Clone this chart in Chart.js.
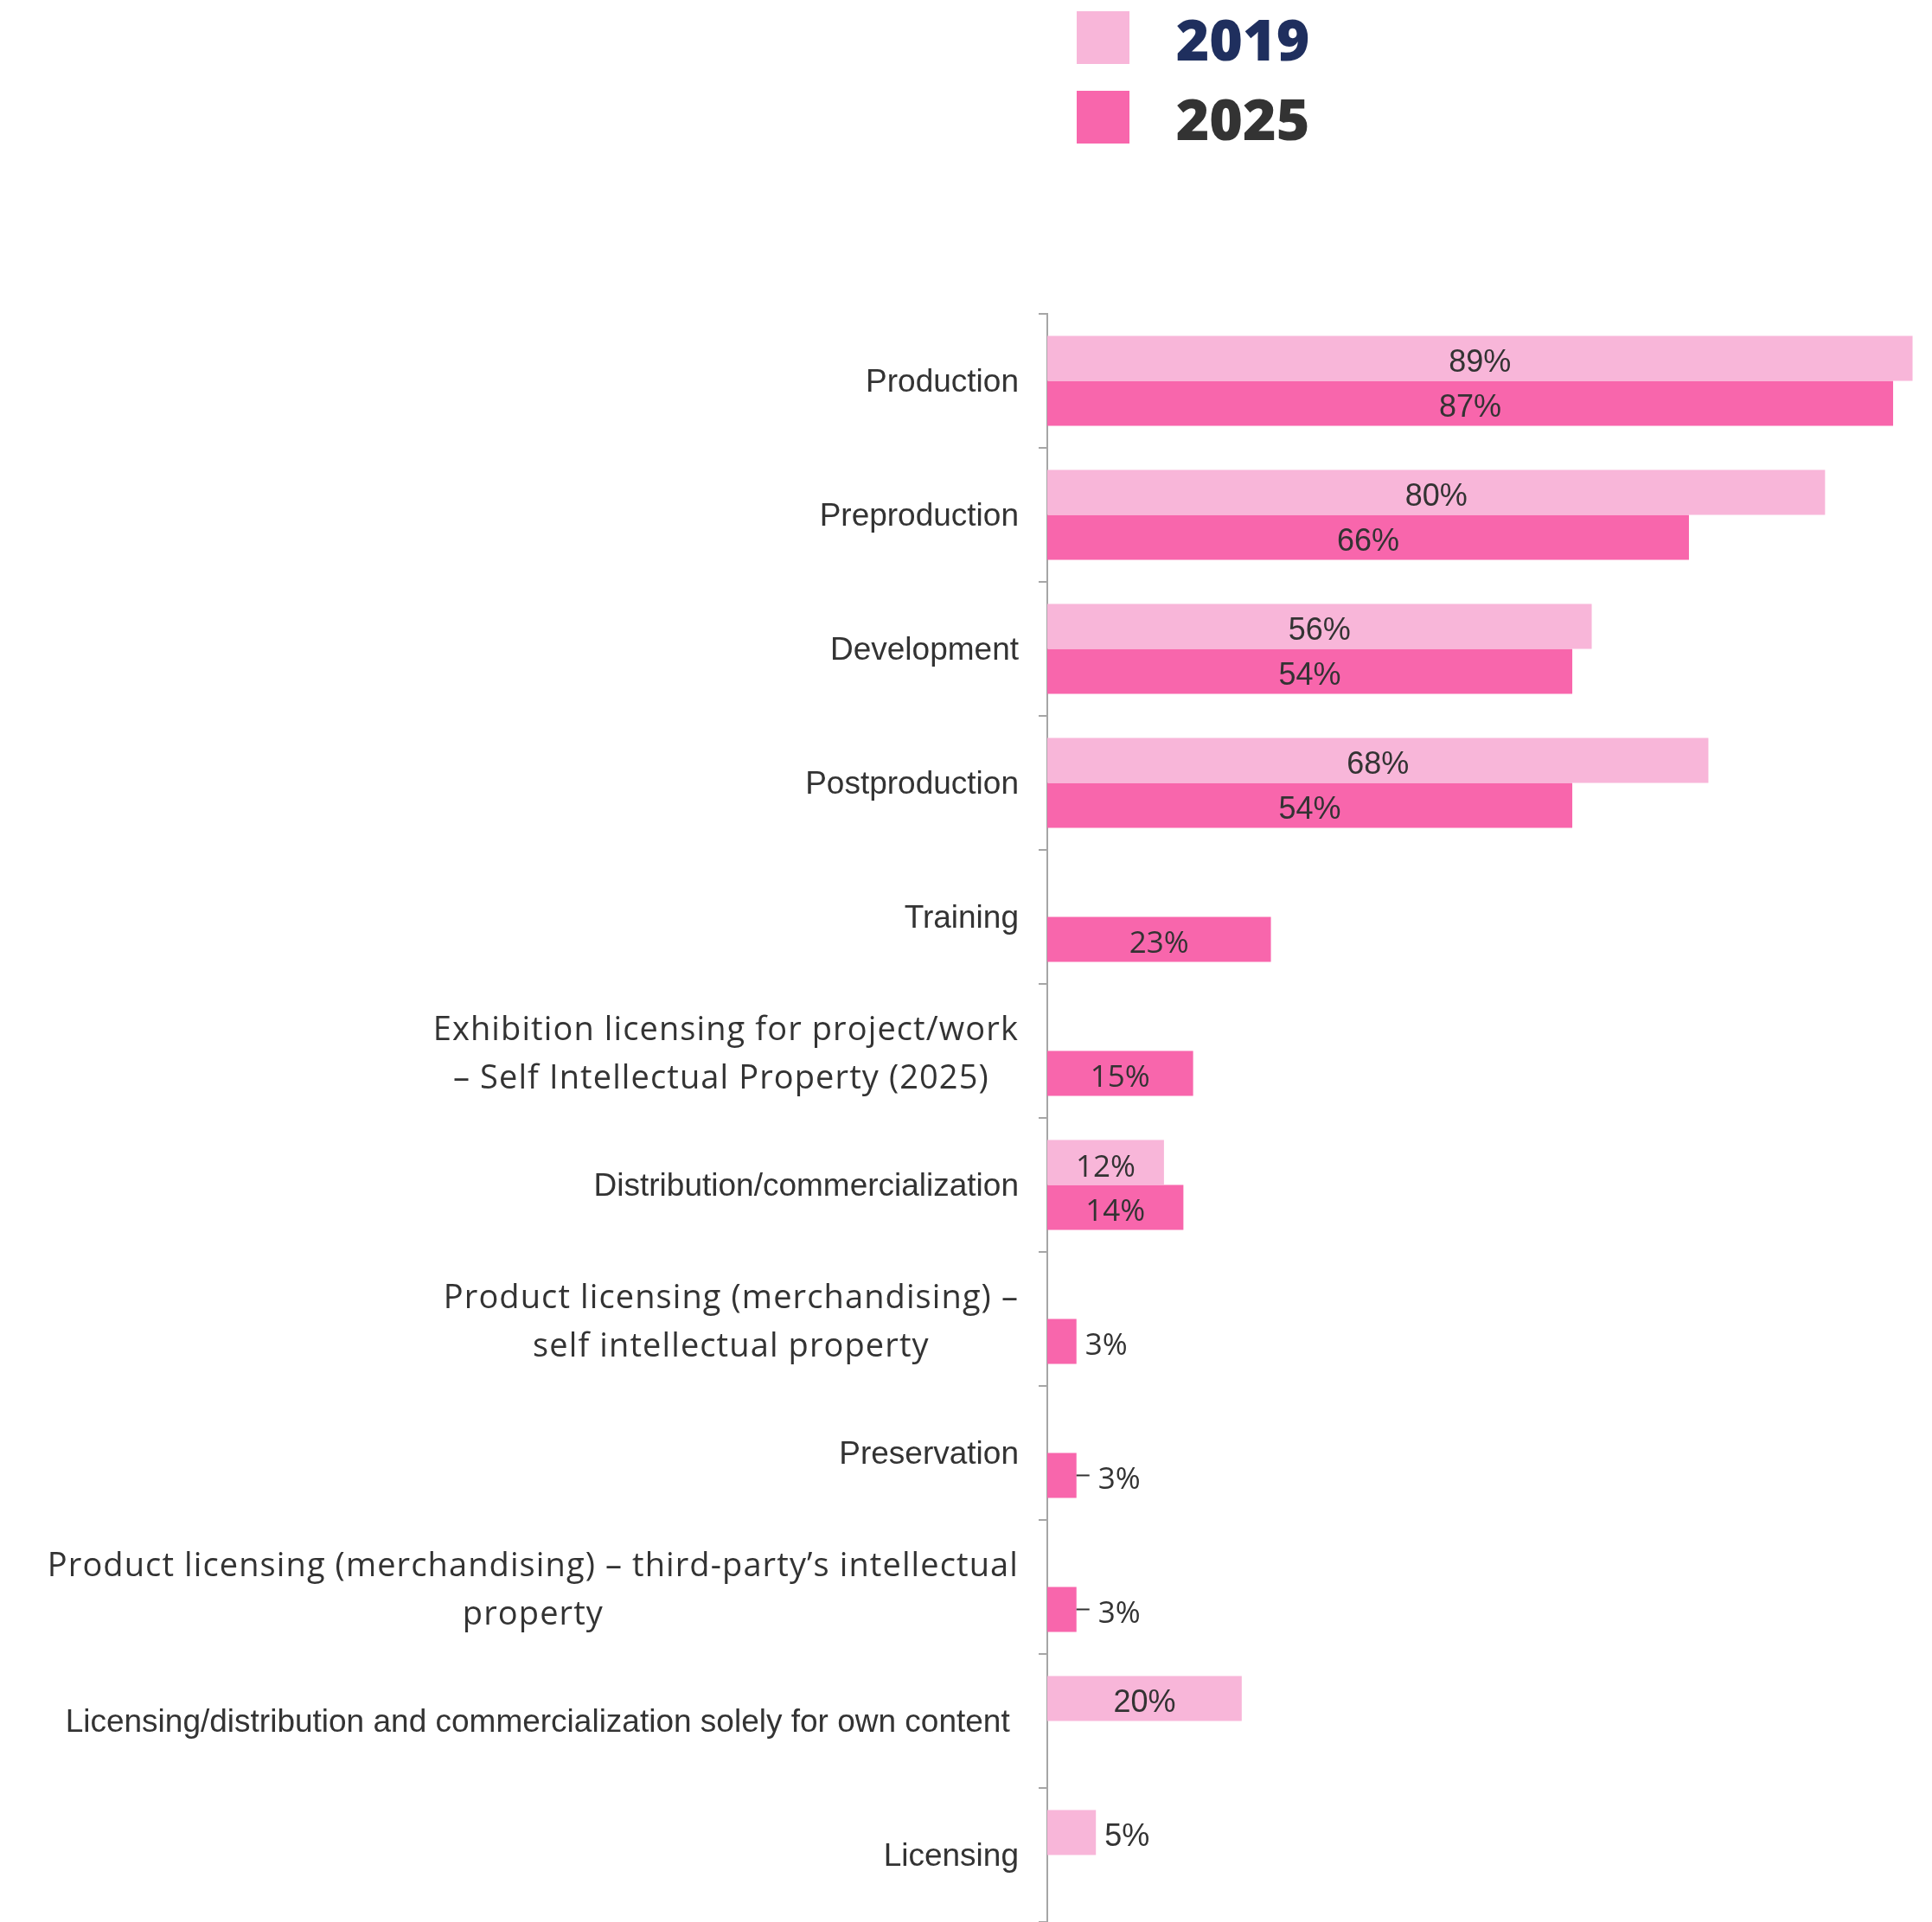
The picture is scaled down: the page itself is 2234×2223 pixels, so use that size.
<!DOCTYPE html>
<html lang="en">
<head>
<meta charset="utf-8">
<title>Activities 2019 vs 2025</title>
<script src="https://cdn.jsdelivr.net/npm/chart.js@4.4.1/dist/chart.umd.min.js"></script>
<style>
  html, body { margin: 0; padding: 0; background: #ffffff; }
  canvas { display: block; }
</style>
</head>
<body>
<canvas id="activity-chart" width="2234" height="2223"></canvas>
<script>
// =======================
// 1. Data
// =======================
const categorias = [
  ["Production"],
  ["Preproduction"],
  ["Development"],
  ["Postproduction"],
  ["Training"],
  ["Exhibition licensing for project/work", "– Self Intellectual Property (2025) "],
  ["Distribution/commercialization"],
  ["Product licensing (merchandising) –", "self intellectual property"],
  ["Preservation"],
  ["Product licensing (merchandising) – third-party’s intellectual", "property"],
  ["Licensing/distribution and commercialization solely for own content "],
  ["Licensing"],
];

const anos = ["2019", "2025"];
const valores2019 = [89, 80, 56, 68, null, null, 12, null, null, null, 20, 5];
const valores2025 = [87, 66, 54, 54, 23, 15, 14, 3, 3, 3, null, null];

// rows whose small value gets a short leader line before the label
const comLinha = ["Preservation", "Product licensing (merchandising) – third-party’s intellectual"];

// =======================
// 2. Look & feel
// =======================
const corClara = "#f8b6d9";
const corForte = "#f866ac";
const corTexto = "#333333";
const fonteReta = "'Liberation Sans', Arial, sans-serif";
const fonteRedonda = "'Open Sans', 'Noto Sans', sans-serif";
const linhasRedondas = [5, 7, 9];           // category labels set in the rounded face
const valoresRedondos = [4, 5, 6, 7, 8, 9]; // value labels set in the rounded face

// =======================
// 3. Plugins
// =======================
const legendaTopo = {
  id: "legendaTopo",
  afterDraw(chart) {
    const { ctx } = chart;
    const itens = [
      { txt: anos[0], cor: corClara, texto: "#1f2f5e", y: 13 },
      { txt: anos[1], cor: corForte, texto: "#333333", y: 105 },
    ];
    ctx.save();
    ctx.textAlign = "center";
    ctx.textBaseline = "middle";
    ctx.font = "800 66px 'Open Sans', sans-serif";
    itens.forEach((it) => {
      ctx.fillStyle = it.cor;
      ctx.fillRect(1245, it.y, 61, 61);
      ctx.fillStyle = it.texto;
      ctx.fillText(it.txt, 1437, it.y + 38);
    });
    ctx.restore();
  },
};

const rotulosEixo = {
  id: "rotulosEixo",
  afterDraw(chart) {
    const { ctx } = chart;
    const y = chart.scales.y;
    const direita = y.right - 33;
    ctx.save();
    ctx.fillStyle = corTexto;
    ctx.textAlign = "center";
    ctx.textBaseline = "middle";
    categorias.forEach((linhas, i) => {
      const redonda = linhasRedondas.includes(i);
      ctx.font = redonda ? "38px " + fonteRedonda : "37px " + fonteReta;
      ctx.letterSpacing = redonda ? "1.1px" : "0px";
      const largura = Math.max(...linhas.map((l) => ctx.measureText(l).width));
      const cx = direita - largura / 2;
      const cy = y.getPixelForValue(i) + (redonda ? 5 : 2);
      linhas.forEach((l, k) => {
        ctx.fillText(l, cx, cy + (k - (linhas.length - 1) / 2) * 56);
      });
    });
    ctx.restore();
  },
};

const rotulosValor = {
  id: "rotulosValor",
  afterDatasetsDraw(chart) {
    const { ctx } = chart;
    ctx.save();
    ctx.fillStyle = corTexto;
    ctx.strokeStyle = corTexto;
    ctx.lineWidth = 2;
    ctx.textBaseline = "middle";
    chart.data.datasets.forEach((ds, di) => {
      const meta = chart.getDatasetMeta(di);
      meta.data.forEach((bar, i) => {
        const v = ds.data[i];
        if (v == null) return;
        const txt = v + "%";
        ctx.font = valoresRedondos.includes(i) ? "35px " + fonteRedonda : "36px " + fonteReta;
        const ty = bar.y + 6;
        if (v >= 10) {
          ctx.textAlign = "center";
          ctx.fillText(txt, (bar.base + bar.x) / 2, ty);
        } else if (comLinha.includes(categorias[i][0])) {
          ctx.beginPath();
          ctx.moveTo(bar.x, bar.y);
          ctx.lineTo(bar.x + 15, bar.y);
          ctx.stroke();
          ctx.textAlign = "left";
          ctx.fillText(txt, bar.x + 25, ty);
        } else {
          ctx.textAlign = "left";
          ctx.fillText(txt, bar.x + 10, ty);
        }
      });
    });
    ctx.restore();
  },
};

// =======================
// 4. Chart
// =======================
const ctx = document.getElementById("activity-chart").getContext("2d");
new Chart(ctx, {
  type: "bar",
  data: {
    labels: categorias,
    datasets: [
      { label: anos[0], data: valores2019, backgroundColor: corClara },
      { label: anos[1], data: valores2025, backgroundColor: corForte },
    ],
  },
  options: {
    indexAxis: "y",
    responsive: false,
    animation: false,
    layout: { padding: { top: 363, left: 0, right: 0, bottom: 0 } },
    datasets: { bar: { categoryPercentage: 0.67, barPercentage: 1 } },
    plugins: { legend: { display: false }, tooltip: { enabled: false } },
    scales: {
      x: { display: false, min: 0, max: 91 },
      y: {
        ticks: { display: false },
        grid: {
          drawOnChartArea: false,
          drawTicks: true,
          tickLength: 10,
          color: "#a6a6a6",
          lineWidth: 2,
        },
        border: { color: "#a6a6a6", width: 2 },
        afterFit(scale) {
          scale.width = 1211;
        },
      },
    },
  },
  plugins: [legendaTopo, rotulosEixo, rotulosValor],
});
</script>
</body>
</html>
